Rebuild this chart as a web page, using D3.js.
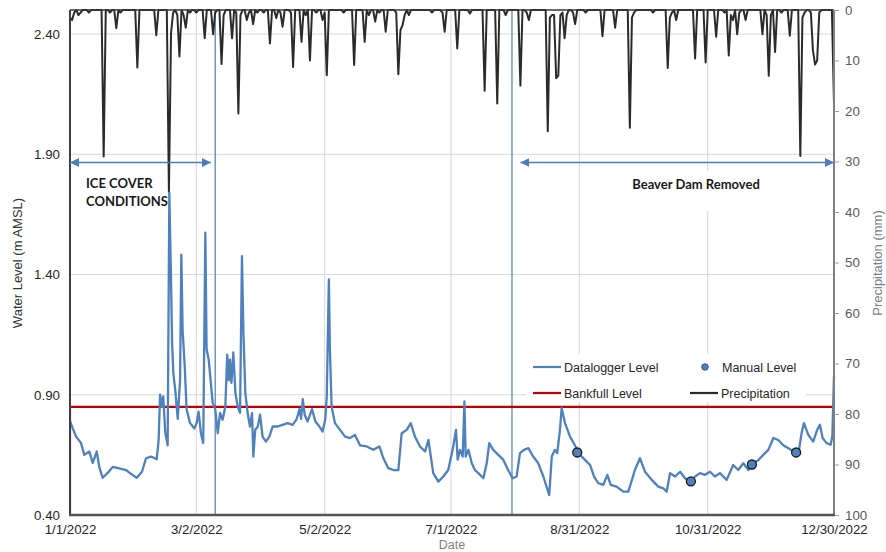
<!DOCTYPE html>
<html><head><meta charset="utf-8">
<script src="https://cdn.jsdelivr.net/npm/d3@7"></script>
<style>body{margin:0;background:#fff}svg{display:block}</style>
</head><body><svg id="c" width="886" height="552"></svg>
<script>
// ---------- DATA ----------
const xTickLabels = ["1/1/2022","3/2/2022","5/2/2022","7/1/2022","8/31/2022","10/31/2022","12/30/2022"];
const levelTicks = [0.40, 0.90, 1.40, 1.90, 2.40];
const precipTicks = [0,10,20,30,40,50,60,70,80,90,100];

// Daily precipitation (mm), one array per month of 2022 (index = day of month - 1)
const precipJan = [1.5,2,0.5,0,1,0.5,0,0,0,0.5,0,0,0,0,0,0,29,0,0,0.5,0,0,3.6,0,0.5,0,0,0,0,0,0];
const precipFeb = [0,11.4,0,0,0,0,0,0,0,0,5,0,0,0,0,0,36,4.6,0.5,0,1,9.2,0,1,3.5,0,0.5,0];
const precipMar = [0,0.5,0,0,0,5.6,0,0,0,4.8,0.5,0,0,10.7,1,0,0,0,5.6,0,0.5,20.5,1,0,0,2,0.5,0,2.8,0,0.5];
const precipApr = [0,0,0.5,0,0,6.6,0,0,1.6,0,0.5,3.3,0,0,0,0.5,11.3,0,0,0,6.3,0,1,0,10,0,0,0.5,0,0];
const precipMay = [2,0.5,12.9,0,0,0,0,0,0,0,0.5,0,0,0,0,10.9,0,0,0,0,6.3,0,1,0,0,2.3,0,0.5,0,0,4.3];
const precipJun = [0,0,0,0,0.5,12.7,4,3,1,0,1,0,0,0,0,0,0,0,0,0,0,0.5,0,0,0,0,0.5,4.3,0,0];
const precipJul = [0,0,0,7.6,0,0,0,0,0,0.7,0,0,0,0,0,0,16,0,0,0,0,0,18.5,0,0,0,1,0,0,0,0];
const precipAug = [0,0,15,0,0,0.5,2,0,0,0,0,0,0,0,0,24,1.5,1,1,13.5,13,1,0.5,5.6,1,0,0,0.5,2.8,0,0];
const precipSep = [0,0,0.5,0,0,0,0,0,0,0,5.2,0,0,0,0,0,3.5,0,0,0,0,0,0,23.3,1.5,0.5,0,0,0,0];
const precipOct = [0,0,0,0,0.5,0,0,0,0,0,0,11.5,1.5,0.5,0,2,0,0,0,0,0,0,0,0,9.6,0,0,0,0,10.4,0];
const precipNov = [0,0,0,5.3,0,0,0,0.5,0,9,1,2,0,4.8,0.5,0,0,2,0,0,0,0,0,0,0,4.8,0,1,13,1];
const precipDec = [0,8.3,0,0,0.5,0,0,0,5.1,0,0,0,0,28.9,1.5,0.5,0,0,0.5,8,10.8,10,0.5,0,0,0,0,0,0,18.5];

// Datalogger water level (m AMSL): days since 1 Jan 2022 and levels
const loggerDay = [0,1.3,2.9,5.2,6.8,9.2,10.8,12.7,13.9,15.5,17.9,20.3,23.4,26.6,29,31.7,34.2,36.1,38.5,41.2,42.1,42.8,43.7,44.3,45.3,46.4,47.2,48,48.5,49.1,50,51.2,52.3,52.9,53.5,54.5,55.4,57,59.1,60.2,61.1,62.2,63.3,64.3,64.9,65.9,66.8,67.8,69,70.2,71.3,72.5,73.8,74.7,75.4,76,76.7,77.6,78.6,79.7,80.8,81.7,82.4,83.3,84.4,85.5,86.5,87.1,88,89.2,90.3,91.5,93.1,94.7,96.3,98.7,101,103.4,105.8,107.7,109,109.8,110.6,111.5,112.9,115,116.6,118.5,120,121.3,122,123,123.5,124.3,125.9,128.3,130.7,133,135.4,137.8,141,144.1,147,148.9,151.2,153.6,156,157.6,160,161.9,163.9,166.3,168.7,170.3,172.6,175,177.4,179.7,181.8,183.4,184.2,185.3,186.6,187.4,188,189.3,190.9,192.4,194,196.4,198,199.2,201.1,203.5,205.9,208.2,210.3,212.2,213.8,215.7,217.8,220.1,222.5,224.9,227.7,228.9,230.4,231.5,232.8,233.6,235.2,237.6,239.9,242.3,244.7,247.1,249,251,253.4,255.3,256.9,259.7,262.9,265.3,268.4,270.8,273.2,276.4,279.5,281.9,283.5,285.1,287.5,289.9,292.2,294.6,297,299.3,301.7,304.1,306.4,308.8,312,315.1,317.5,319.9,322.3,324.7,327.1,329.4,331.8,334.2,336.5,338.9,341.3,343.7,346,347.6,348.7,350.8,353.1,355,356.3,357.6,359.5,361.4,362.2,363];
const loggerLevel = [0.79,0.76,0.726,0.70,0.65,0.664,0.617,0.664,0.60,0.555,0.575,0.60,0.594,0.587,0.571,0.555,0.58,0.636,0.643,0.632,0.71,0.90,0.85,0.893,0.74,0.69,1.74,1.38,1.117,0.99,0.92,0.80,0.96,1.483,1.17,1.02,0.84,0.783,0.76,0.783,0.83,0.74,0.70,1.574,1.09,1.046,0.96,0.866,0.84,0.74,0.825,0.796,0.85,1.067,0.96,1.046,0.95,1.076,0.907,0.85,0.825,1.476,1.157,0.907,0.824,0.768,0.824,0.643,0.754,0.768,0.817,0.726,0.705,0.726,0.768,0.768,0.775,0.782,0.775,0.799,0.84,0.80,0.882,0.817,0.789,0.84,0.789,0.768,0.747,0.799,0.893,1.38,1.087,0.85,0.782,0.754,0.726,0.72,0.733,0.69,0.685,0.671,0.685,0.636,0.595,0.587,0.587,0.74,0.754,0.782,0.726,0.685,0.664,0.712,0.574,0.539,0.56,0.587,0.671,0.754,0.63,0.671,0.643,0.872,0.643,0.671,0.615,0.587,0.574,0.553,0.615,0.699,0.671,0.65,0.629,0.587,0.553,0.56,0.657,0.671,0.678,0.643,0.615,0.56,0.483,0.643,0.671,0.657,0.754,0.845,0.782,0.726,0.69,0.65,0.629,0.608,0.56,0.532,0.525,0.567,0.525,0.518,0.497,0.497,0.587,0.636,0.58,0.546,0.518,0.511,0.497,0.574,0.56,0.58,0.553,0.539,0.56,0.574,0.567,0.58,0.56,0.574,0.546,0.608,0.587,0.615,0.587,0.615,0.629,0.65,0.671,0.72,0.712,0.69,0.678,0.664,0.65,0.74,0.782,0.733,0.705,0.754,0.775,0.72,0.699,0.692,0.726,0.98];

const manualDates = ["2022-08-30","2022-10-23","2022-11-21","2022-12-12"];
const manualLevels = [0.66, 0.54, 0.61, 0.66];

const bankfullDates = ["2022-01-01","2022-01-01","2022-12-30"];
const bankfullLevels = [0.0, 0.85, 0.85];

const eventDates = ["2022-03-11","2022-07-30"];
const iceCoverSpan = ["2022-01-01","2022-03-09"];
const damRemovedSpan = ["2022-08-03","2022-12-30"];

// ---------- CHART ----------
const svg = d3.select("#c");
const W = 886, H = 552;
const m = {left: 70, right: 52, top: 10, bottom: 37};
const x0 = m.left, x1 = W - m.right, y0 = H - m.bottom, y1 = m.top;

const parseTick = d3.timeParse("%m/%d/%Y");
const parseISO = d3.timeParse("%Y-%m-%d");
const tickDates = xTickLabels.map(parseTick);
const start = tickDates[0];

const x = d3.scaleTime().domain([tickDates[0], tickDates[tickDates.length-1]]).range([x0, x1]);
const yL = d3.scaleLinear().domain([0.40, 2.50]).range([y0, y1]);
const yR = d3.scaleLinear().domain([0, 100]).range([y1, y0]);

const FONT = "'Liberation Sans', Arial, sans-serif";

svg.append("defs").append("clipPath").attr("id","plot")
  .append("rect").attr("x", x0).attr("y", y1).attr("width", x1-x0).attr("height", y0-y1);

// gridlines
const grid = svg.append("g").attr("stroke", "#d9d9d9").attr("stroke-width", 1);
levelTicks.filter(v => v > 0.4).forEach(v => {
  grid.append("line").attr("x1", x0).attr("x2", x1).attr("y1", yL(v)).attr("y2", yL(v));
});
tickDates.slice(1, -1).forEach(d => {
  grid.append("line").attr("x1", x(d)).attr("x2", x(d)).attr("y1", y1).attr("y2", y0).attr("stroke","#d3d7de");
});

// event vertical lines
eventDates.map(parseISO).forEach(d => {
  svg.append("line").attr("x1", x(d)).attr("x2", x(d)).attr("y1", y1).attr("y2", y0)
    .attr("stroke", "#5b87bd").attr("stroke-width", 1.3);
});

// precipitation
const precipMonths = [precipJan,precipFeb,precipMar,precipApr,precipMay,precipJun,precipJul,precipAug,precipSep,precipOct,precipNov,precipDec];
const precip = [];
precipMonths.forEach((arr, mi) => arr.forEach((v, i) => precip.push({date: new Date(2022, mi, i+1), v})));
svg.append("path").datum(precip)
  .attr("fill","none").attr("stroke","#2b2b2b").attr("stroke-width",2).attr("stroke-linejoin","round")
  .attr("d", d3.line().x(d => x(d.date)).y(d => yR(d.v)));

// bankfull
const bank = bankfullDates.map((d, i) => ({date: parseISO(d), v: bankfullLevels[i]}));
svg.append("path").datum(bank).attr("clip-path","url(#plot)")
  .attr("fill","none").attr("stroke","#c00000").attr("stroke-width",2.2)
  .attr("d", d3.line().x(d => x(d.date)).y(d => yL(d.v)));

// datalogger
const logger = loggerDay.map((d, i) => ({date: new Date(start.getTime() + d*864e5), v: loggerLevel[i]}));
svg.append("path").datum(logger)
  .attr("fill","none").attr("stroke","#4f81bd").attr("stroke-width",2.3).attr("stroke-linejoin","round")
  .attr("d", d3.line().x(d => x(d.date)).y(d => yL(d.v)));

// manual points
svg.append("g").selectAll("circle").data(manualDates.map((d,i)=>({date: parseISO(d), v: manualLevels[i]})))
  .join("circle").attr("cx", d => x(d.date)).attr("cy", d => yL(d.v)).attr("r", 4.5)
  .attr("fill","#4f81bd").attr("stroke","#1a1a1a").attr("stroke-width",1.3);

// axes lines
svg.append("line").attr("x1",x0).attr("x2",x1).attr("y1",y1).attr("y2",y1).attr("stroke","#3a3a3a").attr("stroke-width",1.6);
svg.append("line").attr("x1",x1).attr("x2",x1).attr("y1",y1).attr("y2",y0).attr("stroke","#7f7f7f").attr("stroke-width",2);
svg.append("line").attr("x1",x0).attr("x2",x0).attr("y1",y1).attr("y2",y0).attr("stroke","#404040").attr("stroke-width",2);

// left axis
const gL = svg.append("g").attr("transform",`translate(${x0},0)`)
  .call(d3.axisLeft(yL).tickValues(levelTicks).tickFormat(d3.format(".2f")).tickSize(0).tickPadding(10));
gL.select(".domain").remove();
gL.selectAll("text").attr("font-family",FONT).attr("font-size",13.3).attr("fill","#262626");

// right axis
const gR = svg.append("g").attr("transform",`translate(${x1},0)`)
  .call(d3.axisRight(yR).tickValues(precipTicks).tickSize(5).tickPadding(6));
gR.select(".domain").remove();
gR.selectAll("line").attr("stroke","#9a9a9a");
gR.selectAll("text").attr("font-family",FONT).attr("font-size",13.3).attr("fill","#595959");

// bottom axis
const gB = svg.append("g").attr("transform",`translate(0,${y0})`)
  .call(d3.axisBottom(x).tickValues(tickDates).tickFormat((d,i) => xTickLabels[i]).tickSize(0).tickPadding(9.5));
gB.select(".domain").remove();
gB.selectAll("text").attr("font-family",FONT).attr("font-size",13.3).attr("fill","#262626");
svg.append("line").attr("x1",x0-1).attr("x2",x1+1).attr("y1",y0).attr("y2",y0).attr("stroke","#555").attr("stroke-width",2.6);

// axis titles
svg.append("text").attr("transform",`translate(22,263) rotate(-90)`).attr("text-anchor","middle")
  .attr("font-family",FONT).attr("font-size",13).attr("fill","#333").text("Water Level (m AMSL)");
svg.append("text").attr("transform",`translate(882,263) rotate(-90)`).attr("text-anchor","middle")
  .attr("font-family",FONT).attr("font-size",13).attr("fill","#7f7f7f").text("Precipitation (mm)");
svg.append("text").attr("x", (x0+x1)/2).attr("y", 548.5).attr("text-anchor","middle")
  .attr("font-family",FONT).attr("font-size",12.5).attr("fill","#7f7f7f").text("Date");

// arrows
const defs = svg.select("defs");
defs.append("marker").attr("id","ah").attr("viewBox","0 0 10 10").attr("refX",10).attr("refY",5)
  .attr("markerWidth",9).attr("markerHeight",9).attr("markerUnits","userSpaceOnUse").attr("orient","auto-start-reverse")
  .append("path").attr("d","M0,0 L10,5 L0,10 Z").attr("fill","#4a7ebb");
const arrowY = yR(30) + 1;
[iceCoverSpan, damRemovedSpan].forEach(sp => {
  const a = parseISO(sp[0]), b = parseISO(sp[1]);
  svg.append("line").attr("x1", x(a)).attr("x2", x(b)).attr("y1", arrowY).attr("y2", arrowY)
    .attr("stroke","#4a7ebb").attr("stroke-width",1.3)
    .attr("marker-start","url(#ah)").attr("marker-end","url(#ah)");
});

// annotation texts
const BOLD = "Lato, 'Open Sans', sans-serif";
const ice = svg.append("text").attr("font-family",BOLD).attr("font-weight",700).attr("font-size",13).attr("fill","#1a1a1a");
ice.append("tspan").attr("x",86).attr("y",188).text("ICE COVER");
ice.append("tspan").attr("x",86).attr("y",206).text("CONDITIONS");

svg.append("rect").attr("x",622).attr("y",171).attr("width",148).attr("height",40).attr("fill","#fff");
svg.append("text").attr("x",696).attr("y",189).attr("text-anchor","middle")
  .attr("font-family",BOLD).attr("font-weight",700).attr("font-size",13).attr("fill","#1a1a1a").text("Beaver Dam Removed");

// legend
const lg = svg.append("g");
lg.append("rect").attr("x",526).attr("y",354).attr("width",280).attr("height",48).attr("fill","#fff");
const legendItems = [
  {label:"Datalogger Level", type:"line", color:"#4f81bd", lx:533, ly:367},
  {label:"Manual Level", type:"dot", color:"#4f81bd", lx:691, ly:367},
  {label:"Bankfull Level", type:"line", color:"#c00000", lx:533, ly:393},
  {label:"Precipitation", type:"line", color:"#2b2b2b", lx:690, ly:393}
];
legendItems.forEach(it => {
  if (it.type === "line") {
    lg.append("line").attr("x1",it.lx).attr("x2",it.lx+28).attr("y1",it.ly).attr("y2",it.ly)
      .attr("stroke",it.color).attr("stroke-width",2.2);
  } else {
    lg.append("circle").attr("cx",it.lx+14).attr("cy",it.ly).attr("r",3.3)
      .attr("fill",it.color).attr("stroke","#2a3f5f").attr("stroke-width",0.8);
  }
  lg.append("text").attr("x",it.lx+31).attr("y",it.ly+4.5).attr("font-family",FONT).attr("font-size",12.5)
    .attr("fill","#262626").text(it.label);
});
</script></body></html>
